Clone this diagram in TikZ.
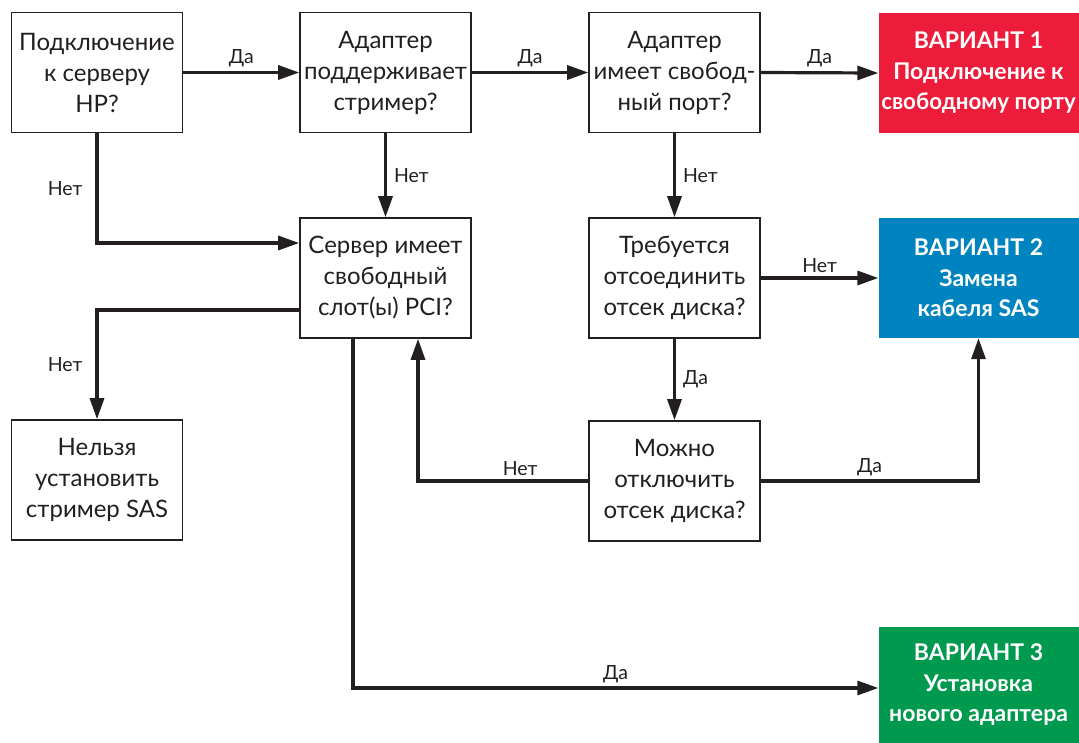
\documentclass[tikz,border=0pt]{standalone}
\usepackage{fontspec}
\setmainfont{Lato}
\usetikzlibrary{arrows.meta}
\definecolor{ink}{RGB}{35,31,32}
\definecolor{vred}{RGB}{236,28,58}
\definecolor{vblue}{RGB}{0,132,192}
\definecolor{vgreen}{RGB}{0,154,78}
\begin{document}
\begin{tikzpicture}[x=1pt,y=-1pt,
  box/.style={draw=ink, line width=1.6pt, minimum width=171pt, minimum height=120pt,
    inner sep=0pt, align=center, text=ink, font=\fontsize{24}{31}\selectfont},
  vbox/.style={minimum width=200pt, minimum height=120pt, inner sep=0pt, align=center,
    text=white, font=\bfseries\fontsize{23}{30.5}\selectfont},
  conn/.style={draw=ink, line width=3.2pt, -{Triangle[length=21pt,width=14pt]}},
  lbl/.style={text=ink, font=\fontsize{19.5}{22}\selectfont, inner sep=4pt},
  lbll/.style={lbl, left, xshift=-9pt},
  lblr/.style={lbl, right, xshift=3pt}]
\useasboundingbox (0,0) rectangle (1079,742);
\fill[white] (0,0) rectangle (1079,742);

\node[box] (A) at (97,72.5) {Подключение\\к серверу\\HP?};
\node[box] (B) at (385.5,72.5) {Адаптер\\поддерживает\\стример?};
\node[box] (C) at (674.5,72.5) {Адаптер\\имеет свобод-\\ный порт?};
\node[vbox, fill=vred] (V1) at (978.5,73) {ВАРИАНТ 1\\Подключение к\\\scalebox{0.97}[1]{свободному порту}};

\node[box] (D) at (385.5,278) {Сервер имеет\\свободный\\слот(ы) PCI?};
\node[box] (E) at (674.5,278) {Требуется\\отсоединить\\отсек диска?};
\node[vbox, fill=vblue] (V2) at (978.5,278) {ВАРИАНТ 2\\Замена\\кабеля SAS};

\node[box] (F) at (97,480) {Нельзя\\установить\\стример SAS};
\node[box] (G) at (674.5,481) {Можно\\отключить\\отсек диска?};

\node[vbox, fill=vgreen, minimum height=116pt] (V3) at (978.5,685) {ВАРИАНТ 3\\Установка\\нового адаптера};

\draw[conn] (A.east) -- node[lbl, above] {Да} (B.west);
\draw[conn] (B.east) -- node[lbl, above] {Да} (C.west);
\draw[conn] (C.east) -- node[lbl, above] {Да} (V1.west);

\draw[conn] (A.south) |- node[lbll, pos=0.25] {Нет} ([yshift=35pt]D.west);
\draw[conn] (B.south) -- node[lblr] {Нет} (D.north);
\draw[conn] (C.south) -- node[lblr] {Нет} (E.north);
\draw[conn] (E.east) -- node[lbl, above] {Нет} (V2.west);
\draw[conn] (E.south) -- node[lblr] {Да} (G.north);

\draw[conn] (G.west) -| node[lbl, above, pos=0.2] {Нет} ([xshift=32.5pt]D.south);
\draw[conn] (G.east) -| node[lbl, above, pos=0.25] {Да} (V2.south);

\draw[conn] ([yshift=-32pt]D.west) -| node[lbll, pos=0.75] {Нет} (F.north);
\draw[conn] ([xshift=-32.5pt]D.south) |- node[lbl, above, pos=0.75] {Да} ([yshift=-3pt]V3.west);
\end{tikzpicture}
\end{document}
